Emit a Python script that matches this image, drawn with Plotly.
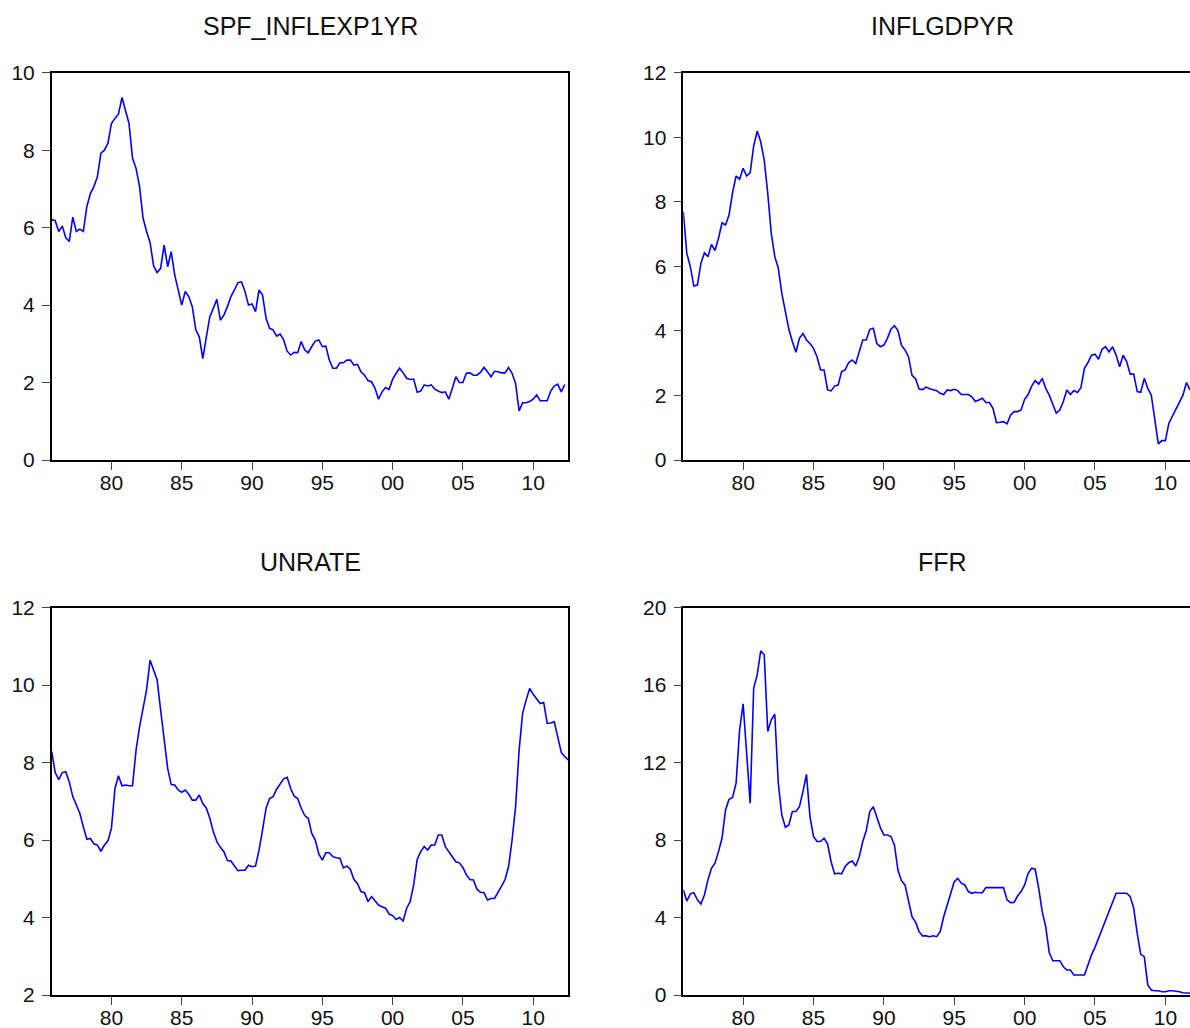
import pandas as pd
import plotly.graph_objects as go

# ---------------- data (quarterly, 1975Q4 onwards) ----------------
start_quarter = "1975Q4"

spf_inflexp1yr = [
    6.21, 6.18, 5.90, 6.04, 5.74, 5.64, 6.27, 5.90, 5.96, 5.90,
    6.54, 6.88, 7.06, 7.31, 7.92, 8.00, 8.18, 8.69, 8.82, 8.93,
    9.36, 9.04, 8.69, 7.79, 7.53, 7.06, 6.24, 5.90, 5.61, 5.01,
    4.84, 4.95, 5.55, 4.99, 5.38, 4.78, 4.39, 4.00, 4.35, 4.22,
    3.96, 3.36, 3.18, 2.62, 3.18, 3.70, 3.92, 4.15, 3.61, 3.74,
    3.96, 4.22, 4.39, 4.58, 4.60, 4.35, 4.00, 4.03, 3.83, 4.39,
    4.26, 3.66, 3.40, 3.36, 3.20, 3.25, 3.10, 2.81, 2.71, 2.78,
    2.77, 3.06, 2.84, 2.77, 2.93, 3.07, 3.10, 2.93, 2.94, 2.58,
    2.37, 2.37, 2.51, 2.51, 2.58, 2.58, 2.45, 2.47, 2.28, 2.19,
    2.05, 2.02, 1.85, 1.57, 1.76, 1.87, 1.82, 2.08, 2.24, 2.37,
    2.25, 2.11, 2.08, 2.09, 1.75, 1.78, 1.94, 1.91, 1.94, 1.83,
    1.78, 1.74, 1.76, 1.57, 1.85, 2.15, 2.00, 2.00, 2.24, 2.25,
    2.19, 2.19, 2.26, 2.39, 2.28, 2.15, 2.29, 2.28, 2.25, 2.25,
    2.39, 2.24, 1.98, 1.27, 1.48, 1.48, 1.51, 1.57, 1.68, 1.53,
    1.53, 1.53, 1.78, 1.91, 1.96, 1.76, 1.95,
]

inflgdpyr = [
    7.69, 6.40, 5.99, 5.39, 5.42, 6.09, 6.42, 6.30, 6.68, 6.49,
    6.87, 7.35, 7.28, 7.59, 8.28, 8.80, 8.70, 9.04, 8.80, 8.90,
    9.73, 10.19, 9.86, 9.29, 8.26, 7.02, 6.30, 5.94, 5.16, 4.54,
    4.05, 3.67, 3.34, 3.77, 3.92, 3.72, 3.61, 3.46, 3.20, 2.79,
    2.79, 2.17, 2.14, 2.29, 2.32, 2.74, 2.79, 3.02, 3.10, 2.99,
    3.36, 3.72, 3.72, 4.05, 4.08, 3.61, 3.51, 3.56, 3.77, 4.05,
    4.16, 4.01, 3.56, 3.41, 3.20, 2.62, 2.52, 2.20, 2.18, 2.26,
    2.21, 2.19, 2.15, 2.07, 2.03, 2.17, 2.15, 2.19, 2.15, 2.03,
    2.03, 2.03, 1.96, 1.81, 1.86, 1.91, 1.78, 1.78, 1.60, 1.16,
    1.17, 1.19, 1.12, 1.39, 1.50, 1.50, 1.55, 1.88, 2.03, 2.29,
    2.46, 2.35, 2.53, 2.22, 2.01, 1.70, 1.45, 1.55, 1.81, 2.17,
    2.03, 2.15, 2.09, 2.24, 2.84, 3.02, 3.25, 3.28, 3.12, 3.43,
    3.51, 3.35, 3.51, 3.25, 2.89, 3.25, 3.05, 2.66, 2.66, 2.12,
    2.10, 2.53, 2.22, 2.01, 1.29, 0.50, 0.60, 0.60, 1.14, 1.36,
    1.55, 1.76, 2.01, 2.40, 2.17,
]

unrate = [
    8.28, 7.74, 7.56, 7.74, 7.76, 7.50, 7.12, 6.90, 6.69, 6.34,
    6.02, 6.04, 5.90, 5.87, 5.71, 5.87, 5.98, 6.30, 7.33, 7.66,
    7.40, 7.42, 7.40, 7.40, 8.32, 8.92, 9.44, 9.88, 10.64, 10.38,
    10.13, 9.35, 8.58, 7.85, 7.43, 7.42, 7.29, 7.23, 7.29, 7.18,
    7.03, 7.03, 7.16, 6.94, 6.82, 6.56, 6.21, 5.96, 5.81, 5.70,
    5.47, 5.46, 5.33, 5.21, 5.22, 5.22, 5.35, 5.31, 5.33, 5.74,
    6.26, 6.82, 7.07, 7.12, 7.31, 7.45, 7.58, 7.62, 7.33, 7.13,
    7.07, 6.82, 6.63, 6.56, 6.17, 6.00, 5.64, 5.48, 5.67, 5.67,
    5.57, 5.54, 5.53, 5.28, 5.33, 5.24, 4.98, 4.88, 4.67, 4.64,
    4.41, 4.54, 4.43, 4.32, 4.28, 4.24, 4.09, 4.05, 3.95, 4.00,
    3.91, 4.24, 4.41, 4.84, 5.50, 5.70, 5.83, 5.74, 5.87, 5.87,
    6.13, 6.13, 5.83, 5.70, 5.59, 5.44, 5.41, 5.29, 5.10, 4.98,
    4.97, 4.73, 4.65, 4.64, 4.45, 4.49, 4.49, 4.67, 4.81, 4.98,
    5.31, 6.00, 6.86, 8.32, 9.27, 9.61, 9.91, 9.76, 9.63, 9.52,
    9.55, 9.01, 9.02, 9.05, 8.66, 8.26, 8.15, 8.07,
]

ffr = [
    5.42, 4.85, 5.22, 5.28, 4.91, 4.70, 5.16, 5.94, 6.54, 6.80,
    7.40, 8.09, 9.55, 10.10, 10.20, 10.93, 13.68, 15.03, 12.48, 9.90,
    15.83, 16.52, 17.76, 17.56, 13.60, 14.20, 14.49, 10.93, 9.29, 8.66,
    8.78, 9.47, 9.47, 9.72, 10.50, 11.39, 9.21, 8.18, 7.92, 7.92,
    8.09, 7.80, 6.88, 6.25, 6.28, 6.25, 6.63, 6.83, 6.92, 6.66,
    7.14, 7.92, 8.49, 9.47, 9.72, 9.12, 8.64, 8.26, 8.26, 8.18,
    7.75, 6.45, 5.90, 5.68, 4.87, 4.04, 3.76, 3.27, 3.05, 3.05,
    3.01, 3.06, 3.01, 3.27, 4.04, 4.65, 5.34, 5.85, 6.02, 5.77,
    5.68, 5.34, 5.25, 5.30, 5.28, 5.28, 5.54, 5.54, 5.51, 5.51,
    5.51, 5.54, 4.91, 4.77, 4.78, 5.11, 5.34, 5.68, 6.28, 6.54,
    6.49, 5.51, 4.30, 3.53, 2.19, 1.77, 1.77, 1.77, 1.46, 1.29,
    1.29, 1.03, 1.03, 1.03, 1.03, 1.55, 2.07, 2.46, 2.93, 3.44,
    3.87, 4.39, 4.82, 5.25, 5.25, 5.25, 5.25, 5.08, 4.48, 3.18,
    2.10, 1.98, 0.52, 0.26, 0.22, 0.22, 0.17, 0.17, 0.22, 0.22,
    0.20, 0.17, 0.12, 0.09, 0.09,
]

x_tickvals = [1980, 1985, 1990, 1995, 2000, 2005, 2010]
x_ticktext = ["80", "85", "90", "95", "00", "05", "10"]

titles = ["SPF_INFLEXP1YR", "INFLGDPYR", "UNRATE", "FFR"]
series = [spf_inflexp1yr, inflgdpyr, unrate, ffr]
y_ranges = [[0, 10], [0, 12], [2, 12], [0, 20]]
y_tickvals = [[0, 2, 4, 6, 8, 10], [0, 2, 4, 6, 8, 10, 12],
              [2, 4, 6, 8, 10, 12], [0, 4, 8, 12, 16, 20]]

# ---------------- layout geometry ----------------
W, H = 1190, 1028
periods = pd.period_range(start_quarter, periods=148, freq="Q")
dates = [p.year + (p.quarter - 1) / 4 for p in periods]

left_px = [(51.7, 568.3), (683.3, 1190.0)]
top_px = [(72.7, 460.0), (607.5, 995.0)]
x_ranges = [[1975.75, 2012.5], [1975.75, 2011.75]]
title_x_px = [310, 942]
title_y_px = [26, 562]

FONT = "Liberation Sans, Arial, sans-serif"

fig = go.Figure()
annotations = []
for k in range(4):
    row, col = divmod(k, 2)
    ax = "" if k == 0 else str(k + 1)
    vals = series[k]
    fig.add_trace(go.Scatter(
        x=dates[:len(vals)], y=vals, mode="lines",
        line=dict(color="#0000FF", width=1.6),
        xaxis="x" + ax, yaxis="y" + ax, showlegend=False,
        hoverinfo="x+y",
    ))
    x0, x1 = left_px[col]
    yt, yb = top_px[row]
    fig.layout["xaxis" + ax] = dict(
        domain=[x0 / W, x1 / W], range=x_ranges[col], anchor="y" + ax,
        automargin=False,
        tickvals=x_tickvals, ticktext=x_ticktext, ticks="outside",
        ticklen=8, tickwidth=1, tickcolor="#444", ticklabelstandoff=-5,
        showline=True, linecolor="black", linewidth=1.5, mirror=True,
        showgrid=False, zeroline=False,
        tickfont=dict(family=FONT, size=21, color="#111"),
    )
    fig.layout["yaxis" + ax] = dict(
        domain=[1 - yb / H, 1 - yt / H], range=y_ranges[k], anchor="x" + ax,
        automargin=False,
        tickvals=y_tickvals[k], ticks="outside",
        ticklen=8, tickwidth=1, tickcolor="#444", ticklabelstandoff=3,
        showline=True, linecolor="black", linewidth=1.5,
        mirror=(col == 0),
        showgrid=False, zeroline=False,
        tickfont=dict(family=FONT, size=21, color="#111"),
    )
    annotations.append(dict(
        text=titles[k], x=title_x_px[col] / W, y=1 - title_y_px[row] / H,
        xref="paper", yref="paper", xanchor="center", yanchor="middle",
        showarrow=False, font=dict(family=FONT, size=25, color="#111"),
    ))

fig.update_layout(
    width=W, height=H,
    margin=dict(l=0, r=0, t=0, b=0, autoexpand=False),
    paper_bgcolor="white", plot_bgcolor="white",
    annotations=annotations,
)

fig.write_html("out.html")
